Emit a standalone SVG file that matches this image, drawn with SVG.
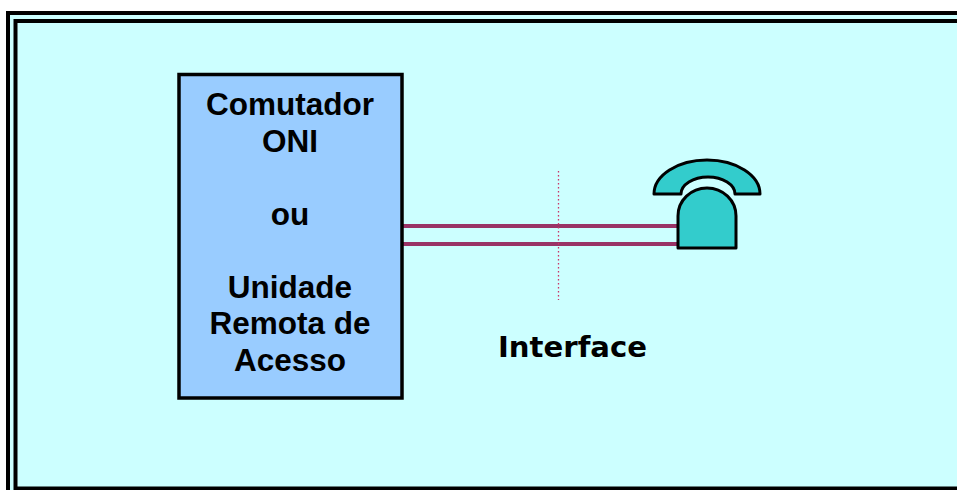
<svg xmlns="http://www.w3.org/2000/svg" width="957" height="490" viewBox="0 0 957 490">
<style>
.frame{fill:none;stroke:#000;stroke-width:4}
.box{fill:#99CCFF;stroke:#000;stroke-width:3.5}
.t{font-family:"Liberation Sans",Arial,sans-serif;font-weight:bold;font-size:31.5px;fill:#000;text-anchor:middle}
.iface{font-family:"DejaVu Sans",Verdana,sans-serif;font-weight:bold;font-size:28px;fill:#000}
.wire{stroke:#993366;stroke-width:4;fill:none}
.dot{stroke:#CC3366;stroke-width:1.3;stroke-dasharray:1.5 2.5;fill:none}
.ph{fill:#33CCCC;stroke:#000;stroke-width:3;stroke-linejoin:round}
</style>
<rect x="0" y="0" width="957" height="490" fill="#FFFFFF"/>
<g id="background">
<rect x="8" y="13" width="1000" height="520" fill="#CCFFFF"/>
<rect x="8" y="13" width="1000" height="520" class="frame"/>
<rect x="15.5" y="21" width="990" height="467.5" class="frame"/>
</g>
<g id="connectors">
<line x1="402" y1="226" x2="690" y2="226" class="wire"/>
<line x1="402" y1="244" x2="690" y2="244" class="wire"/>
<line x1="558.5" y1="171" x2="558.5" y2="300" class="dot"/>
</g>
<g id="switch">
<rect x="179" y="74.5" width="223" height="323.5" class="box"/>
<text class="t" x="290" y="115">Comutador</text>
<text class="t" x="290" y="151.5">ONI</text>
<text class="t" x="290" y="224.5">ou</text>
<text class="t" x="290" y="297.5">Unidade</text>
<text class="t" x="290" y="334">Remota de</text>
<text class="t" x="290" y="370.5">Acesso</text>
</g>
<g id="interface-label">
<text class="iface" x="498" y="357" textLength="149" lengthAdjust="spacingAndGlyphs">Interface</text>
</g>
<g id="telephone">
<path class="ph" d="M654,194 A53,34 0 0 1 760,194 L735,194 A27,17 0 0 0 681,194 Z"/>
<path class="ph" d="M678,248 L678,216 A29,28 0 0 1 736,216 L736,248 Z"/>
</g>
</svg>
